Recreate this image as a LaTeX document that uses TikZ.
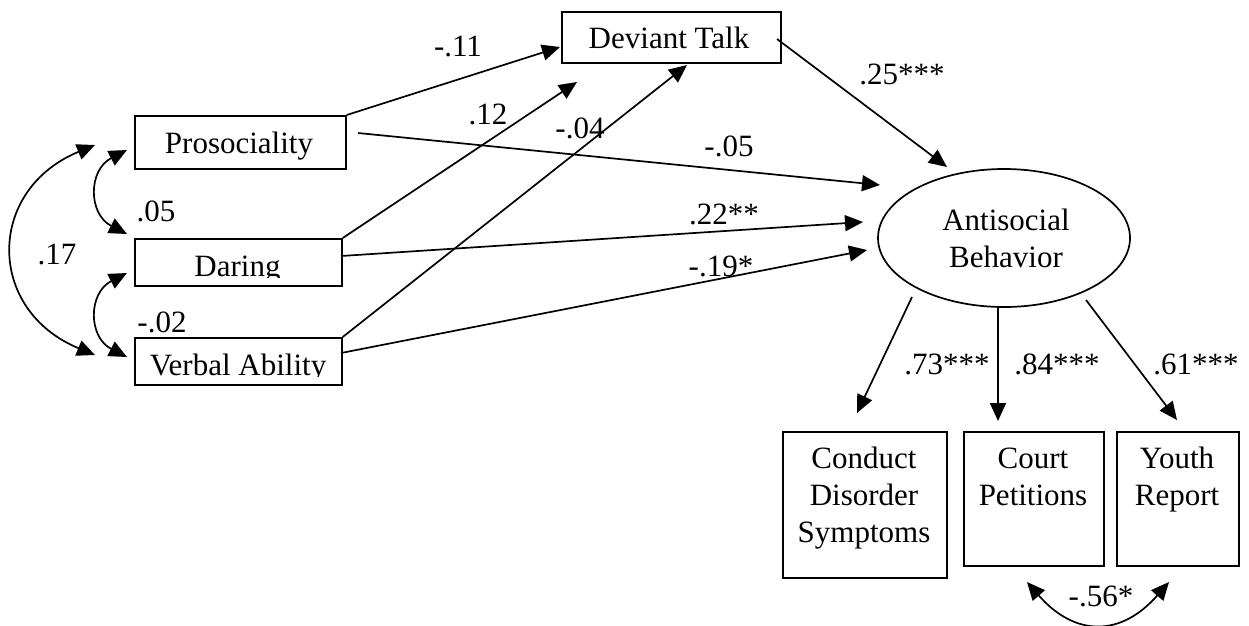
\documentclass[tikz,border=0pt]{standalone}
\usepackage{fontspec}
\setmainfont{Liberation Serif}
\usetikzlibrary{arrows.meta,shapes.geometric}
\begin{document}
\begin{tikzpicture}[x=1pt,y=-1pt,
  box/.style={draw, line width=1.7pt, inner sep=0pt, anchor=north west},
  txt/.style={font=\fontsize{31}{37}\selectfont, inner sep=0pt, anchor=base},
  num/.style={font=\fontsize{31}{37}\selectfont, inner sep=0pt},
  arr/.style={line width=1.7pt, -{Triangle[length=18pt,width=16pt]}},
  darr/.style={line width=1.7pt, {Triangle[length=18pt,width=16pt]}-{Triangle[length=18pt,width=16pt]}}
]
\path[use as bounding box, fill=white] (0,0) rectangle (1249,625);

% exogenous boxes
\node[box, minimum width=211pt, minimum height=53pt] (pros) at (134,115) {};
\node[txt] (prosT) at (239,153) {Prosociality};
\node[box, minimum width=207pt, minimum height=47pt] (dar) at (134,238) {};
\begin{scope}
  \clip (134,238) rectangle (341,277);
  \node[txt] (darT) at (237.5,276.5) {Daring};
\end{scope}
\node[box, minimum width=207pt, minimum height=47pt] (verb) at (134,337) {};
\begin{scope}
  \clip (134,337) rectangle (341,376);
  \node[txt] (verbT) at (238,375.5) {Verbal Ability};
\end{scope}

% mediator
\node[box, minimum width=219pt, minimum height=51pt] (dev) at (561,11) {};
\node[txt] (devT) at (669,48) {Deviant Talk};

% latent
\node[draw, ellipse, line width=1.7pt, inner sep=0pt, minimum width=252pt, minimum height=138pt] (anti) at (1004,238) {};
\node[txt] (antiT1) at (1006,230) {Antisocial};
\node[txt] (antiT2) at (1006,267) {Behavior};

% indicators
\node[box, minimum width=164pt, minimum height=146pt] (cds) at (782,431) {};
\node[txt] (cdsT1) at (864,468) {Conduct};
\node[txt] (cdsT2) at (864,505) {Disorder};
\node[txt] (cdsT3) at (864,542) {Symptoms};
\node[box, minimum width=140pt, minimum height=134pt] (cp) at (963,431) {};
\node[txt] (cpT1) at (1033,468) {Court};
\node[txt] (cpT2) at (1033,505) {Petitions};
\node[box, minimum width=122pt, minimum height=134pt] (yr) at (1116,431) {};
\node[txt] (yrT1) at (1177,468) {Youth};
\node[txt] (yrT2) at (1177,505) {Report};

% connector end points
\coordinate (tPD) at (560,47);
\coordinate (tDD) at (577,82);
\coordinate (tVD) at (687,65);
\coordinate (sPA) at (358,133);
\coordinate (tPA) at (880,185);
\coordinate (sDA) at (341,256);
\coordinate (tDA) at (863,222);
\coordinate (sVA) at (341,353);
\coordinate (tVA) at (867,250);
\coordinate (sDevA) at (777,39);
\coordinate (tDevA) at (947,167);
\coordinate (sA1) at (912,297);
\coordinate (tA1) at (857,413);
\coordinate (sA2) at (998,308);
\coordinate (tA2) at (998,421);
\coordinate (sA3) at (1086,300);
\coordinate (tA3) at (1177,420);

% paths
\draw[arr] (pros.north east) -- (tPD);
\draw[arr] (dar.north east) -- (tDD);
\draw[arr] (verb.north east) -- (tVD);
\draw[arr] (sPA) -- (tPA);
\draw[arr] (sDA) -- (tDA);
\draw[arr] (sVA) -- (tVA);
\draw[arr] (sDevA) -- (tDevA);
\draw[arr] (sA1) -- (tA1);
\draw[arr] (sA2) -- (tA2);
\draw[arr] (sA3) -- (tA3);

% correlations
\coordinate (pd1) at (127,150);
\coordinate (pd2) at (127,234);
\coordinate (dv1) at (127,273);
\coordinate (dv2) at (127,357);
\coordinate (pv1) at (95,145);
\coordinate (pv2) at (95,355);
\coordinate (cy1) at (1027,582);
\coordinate (cy2) at (1169,582);
\draw[darr] (pd1) .. controls (88,170) and (88,214) .. (pd2);
\draw[darr] (dv1) .. controls (88,293) and (88,337) .. (dv2);
\draw[darr] (pv1) .. controls (-14,190) and (-14,310) .. (pv2);
\draw[darr] (cy1) .. controls (1075,637) and (1121,637) .. (cy2);

% coefficients
\node[num] (l11) at (458,46) {-.11};
\node[num] (l12) at (488,114) {.12};
\node[num] (l04) at (580,128) {-.04};
\node[num] (l05a) at (729,146) {-.05};
\node[num] (l22) at (724,214) {.22**};
\node[num] (l19) at (721,266) {-.19*};
\node[num] (l25) at (902,74) {.25***};
\node[num] (l73) at (947,364) {.73***};
\node[num] (l84) at (1057,364) {.84***};
\node[num] (l61) at (1196,364) {.61***};
\node[num] (l56) at (1101,596) {-.56*};
\node[num] (l05) at (156,211) {.05};
\node[num] (l02) at (162,322) {-.02};
\node[num] (l17) at (57,254) {.17};
\end{tikzpicture}
\end{document}
